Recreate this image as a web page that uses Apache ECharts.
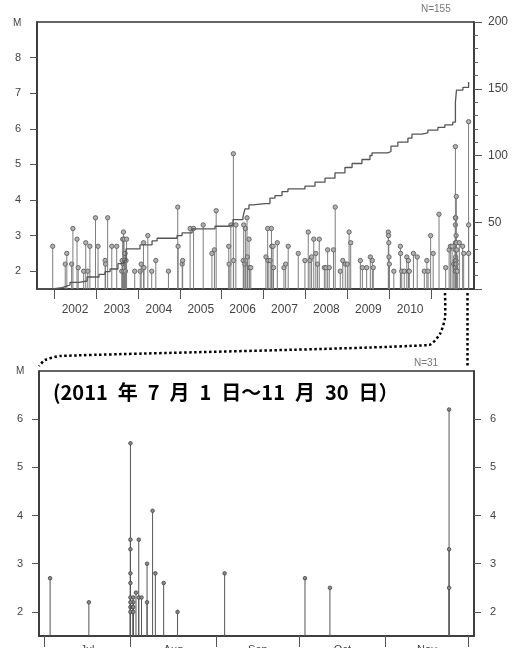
<!DOCTYPE html>
<html><head><meta charset="utf-8">
<script src="https://cdn.jsdelivr.net/npm/echarts@6/dist/echarts.min.js"></script>
<style>html,body{margin:0;padding:0;background:#fff}#c{width:515px;height:648px}</style>
</head><body><div id="c"></div>
<script>
// ---- data ----
const topDates = [
'2001-12-20','2002-04-08','2002-04-22','2002-06-03','2002-06-14','2002-07-20','2002-07-30','2002-09-16','2002-10-04','2002-10-22','2002-11-09','2002-12-28',
'2003-01-19','2003-03-22','2003-03-26','2003-04-13','2003-05-19','2003-07-01',
'2003-08-14','2003-08-18','2003-08-22','2003-08-26','2003-08-29','2003-09-01','2003-09-03','2003-09-05','2003-09-08','2003-09-12','2003-09-15','2003-09-20','2003-09-25',
'2003-12-05','2004-01-22','2004-01-30','2004-02-20','2004-02-24','2004-03-28','2004-05-01','2004-06-06','2004-09-24','2004-12-14','2004-12-17',
'2005-01-22','2005-01-26','2005-04-01','2005-05-01','2005-07-24','2005-10-08','2005-10-30','2005-11-14',
'2006-03-04','2006-03-07','2006-03-22','2006-04-13','2006-04-15','2006-05-05','2006-07-08','2006-07-12','2006-07-23','2006-07-27','2006-08-10','2006-08-14','2006-08-28','2006-09-02','2006-09-12',
'2007-01-22','2007-02-06','2007-02-10','2007-02-28','2007-03-11','2007-03-14','2007-03-25','2007-03-29','2007-05-01','2007-06-28','2007-07-13','2007-08-04','2007-10-31','2007-12-28',
'2008-01-26','2008-02-10','2008-02-24','2008-03-14','2008-04-01','2008-04-16','2008-05-01','2008-06-14','2008-06-28','2008-07-13','2008-07-27','2008-09-02','2008-09-17','2008-10-31','2008-11-22','2008-12-14',
'2009-01-01','2009-01-16','2009-01-30','2009-04-24','2009-05-12','2009-06-18','2009-07-20','2009-08-07','2009-08-15','2009-12-24','2009-12-26','2009-12-28','2009-12-30',
'2010-01-02','2010-02-10','2010-04-08','2010-04-10','2010-04-20','2010-05-12','2010-06-03','2010-06-17','2010-06-19','2010-06-25','2010-07-31','2010-09-02','2010-11-03','2010-11-25','2010-12-06','2010-12-28',
'2011-01-19','2011-03-11','2011-05-08','2011-06-07','2011-06-18'
];
const topMag = [
2.7,2.2,2.5,2.2,3.2,2.9,2.1,2.0,2.8,2.0,2.7,3.5,
2.7,2.3,2.2,3.5,2.7,2.7,
2.0,2.3,2.9,2.2,3.1,2.0,2.9,2.1,2.3,2.5,2.0,2.3,2.9,
2.0,2.0,2.2,2.8,2.1,3.0,2.0,2.3,2.0,3.8,2.7,
2.2,2.3,3.2,3.2,3.3,2.5,2.6,3.7,
2.7,2.2,3.3,5.3,2.3,3.3,2.3,3.3,2.2,3.2,3.5,2.4,2.9,2.1,2.1,
2.4,3.2,2.3,2.3,3.2,2.7,2.7,2.1,2.8,2.1,2.2,2.7,2.5,2.3,
3.1,2.3,2.4,2.9,2.5,2.2,2.9,2.1,2.1,2.6,2.1,2.6,3.8,2.0,2.3,2.2,
2.2,3.1,2.8,2.3,2.1,2.1,2.4,2.3,2.1,3.1,3.0,2.8,2.4,
2.2,2.0,2.7,2.5,2.0,2.0,2.4,2.3,2.0,2.0,2.5,2.4,2.0,2.3,2.0,3.0,
2.5,3.6,2.1,2.6,2.7
];
// Jul 1 - Nov 30, 2011 (N=31)
const julNovDates = [
'2011-07-03','2011-07-17',
'2011-08-01','2011-08-01','2011-08-01','2011-08-01','2011-08-01','2011-08-01','2011-08-01','2011-08-02','2011-08-02','2011-08-01','2011-08-02','2011-08-01','2011-08-02',
'2011-08-03','2011-08-04','2011-08-04','2011-08-05','2011-08-07','2011-08-07','2011-08-09','2011-08-10','2011-08-13','2011-08-18',
'2011-09-04','2011-10-03','2011-10-12','2011-11-24','2011-11-24','2011-11-24'
];
const julNovMag = [
2.7,2.2,
5.5,3.5,3.3,2.8,2.6,2.3,2.1,2.3,2.2,2.2,2.1,2.0,2.0,
2.4,3.5,2.3,2.3,3.0,2.2,4.1,2.8,2.6,2.0,
2.8,2.7,2.5,6.2,3.3,2.5
];
// cumulative number of events (right axis)
const cumDates = ['2001-08-05','2001-12-22','2002-03-10','2002-04-15','2002-05-20','2002-08-07','2002-10-16','2003-01-28','2003-03-21','2003-05-04','2003-07-12','2003-09-02','2003-09-20','2004-01-20','2004-05-04','2004-06-17','2004-12-08','2005-01-21','2005-04-18','2005-11-04','2006-02-25','2006-04-10','2006-07-06','2006-07-23','2006-08-27','2006-10-01','2007-01-14','2007-02-26','2007-04-11','2007-06-11','2007-08-02','2007-12-28','2008-03-25','2008-06-20','2008-09-15','2008-12-11','2009-02-11','2009-05-08','2009-07-17','2009-08-04','2009-12-21','2010-01-16','2010-03-17','2010-06-13','2010-07-18','2010-10-13','2010-12-04','2011-03-01','2011-05-01','2011-07-09','2011-08-01','2011-08-10','2011-10-05','2011-11-24','2011-11-30'];
const cumCount = [0,1,2,3,5,6,9,11,13,15,19,21,30,33,36,38,40,42,45,47,48,52,54,60,63,64,64,68,70,73,75,77,80,83,87,91,94,97,100,102,103,107,110,113,116,117,119,121,123,125,140,149,151,155,155];
const yearTicks = ['2002-01-01','2003-01-01','2004-01-01','2005-01-01','2006-01-01','2007-01-01','2008-01-01','2009-01-01','2010-01-01','2011-01-01'];
const yearLabels = ['2002','2003','2004','2005','2006','2007','2008','2009','2010'];
const monthTicks = ['2011-07-01','2011-08-01','2011-09-01','2011-10-01','2011-11-01','2011-12-01'];
const monthLabels = ['Jul','Aug','Sep','Oct','Nov'];
const topMTicks = [2,3,4,5,6,7,8];
const lowMTicks = [2,3,4,5,6];
const topCountLabel = 'N=155';
const lowCountLabel = 'N=31';
const titleText = '(2011\u2002年\u20027\u2002月\u20021\u2002日～11\u2002月\u200230\u2002日）';

// ---- helpers ----
const T = s => { const p = s.split('-').map(Number); return Date.UTC(p[0], p[1]-1, p[2]); };
const mids = arr => arr.slice(0, -1).map((s, i) => (T(s) + T(arr[i+1])) / 2);
const yearMid = mids(yearTicks);
const monthMid = mids(monthTicks);
const allTop = topDates.map((d,i)=>[T(d), topMag[i]]).concat(julNovDates.map((d,i)=>[T(d), julNovMag[i]]));
const lowData = julNovDates.map((d,i)=>[T(d), julNovMag[i]]);
const cumData = cumDates.map((d,i)=>[T(d), cumCount[i]]);
const nearestIdx = (arr, v) => { let b=0, bd=Infinity; arr.forEach((a,i)=>{const d=Math.abs(a-v); if(d<bd){bd=d;b=i;}}); return b; };

function stems(base, lineColor, dotFill, dotStroke, r) {
  return function(params, api) {
    const p = api.coord([api.value(0), api.value(1)]);
    const b = api.coord([api.value(0), base]);
    return {type:'group', children:[
      {type:'line', shape:{x1:p[0],y1:p[1],x2:b[0],y2:b[1]}, style:{stroke:lineColor, lineWidth:1}},
      {type:'circle', shape:{cx:p[0],cy:p[1],r:r}, style:{fill:dotFill, stroke:dotStroke, lineWidth:0.8}}
    ]};
  };
}

const axisCol = '#333';
const lab = {color:'#444', fontSize:12, fontFamily:'Liberation Sans, Arial, sans-serif'};
const chart = echarts.init(document.getElementById('c'), null, {renderer:'canvas'});
chart.setOption({
  animation:false,
  backgroundColor:'#fff',
  grid:[
    {left:37, top:22, width:437, height:267, show:true, borderColor:axisCol, borderWidth:1.5, backgroundColor:'transparent', outerBoundsMode:'none'},
    {left:39, top:371, width:435, height:265, show:true, borderColor:axisCol, borderWidth:1.5, backgroundColor:'transparent', outerBoundsMode:'none'}
  ],
  xAxis:[
    {type:'value', gridIndex:0, min:T('2001-08-05'), max:T('2012-01-10'),
     axisLine:{lineStyle:{color:axisCol,width:1.5}},
     axisTick:{show:true, customValues:yearTicks.map(T), length:10, lineStyle:{color:'#555'}},
     axisLabel:Object.assign({customValues:yearMid, margin:15, formatter:v=>yearLabels[nearestIdx(yearMid, v)]}, lab),
     splitLine:{show:false}},
    {type:'value', gridIndex:1, min:T('2011-06-29'), max:T('2011-12-03'),
     axisLine:{lineStyle:{color:axisCol,width:1.5}},
     axisTick:{show:true, customValues:monthTicks.map(T), length:11, lineStyle:{color:'#555'}},
     axisLabel:Object.assign({customValues:monthMid, margin:8, formatter:v=>monthLabels[nearestIdx(monthMid, v)]}, lab, {fontSize:11}),
     splitLine:{show:false}}
  ],
  yAxis:[
    {type:'value', gridIndex:0, min:1.5, max:9, position:'left',
     axisLine:{show:true,lineStyle:{color:axisCol,width:1.5}},
     axisTick:{show:true, customValues:topMTicks, length:7, lineStyle:{color:'#555'}},
     axisLabel:Object.assign({customValues:topMTicks, margin:16}, lab, {fontSize:11}),
     splitLine:{show:false}},
    {type:'value', gridIndex:0, min:0, max:200, interval:50, position:'right',
     axisLine:{show:true,lineStyle:{color:axisCol,width:1.5}},
     axisTick:{show:true, length:8, lineStyle:{color:'#555'}},
     minorTick:{show:true, splitNumber:5, length:4, lineStyle:{color:'#666'}},
     axisLabel:Object.assign({showMinLabel:false, margin:14}, lab),
     splitLine:{show:false}},
    {type:'value', gridIndex:1, min:1.5, max:7, position:'left',
     axisLine:{show:true,lineStyle:{color:axisCol,width:1.5}},
     axisTick:{show:true, customValues:lowMTicks, length:7, lineStyle:{color:'#555'}},
     axisLabel:Object.assign({customValues:lowMTicks, margin:16}, lab, {fontSize:11}),
     splitLine:{show:false}},
    {type:'value', gridIndex:1, min:1.5, max:7, position:'right',
     axisLine:{show:true,lineStyle:{color:axisCol,width:1.5}},
     axisTick:{show:true, customValues:lowMTicks, length:7, lineStyle:{color:'#555'}},
     axisLabel:Object.assign({customValues:lowMTicks, margin:16}, lab, {fontSize:11}),
     splitLine:{show:false}}
  ],
  series:[
    {type:'custom', xAxisIndex:0, yAxisIndex:0, data:allTop, renderItem:stems(1.5,'#7d7d7d','#b0b0b0','#555',2.2), encode:{x:0,y:1}, z:2},
    {type:'line', xAxisIndex:0, yAxisIndex:1, data:cumData, step:'end', showSymbol:false, lineStyle:{color:'#555', width:1.3}, z:3},
    {type:'custom', xAxisIndex:1, yAxisIndex:2, data:lowData, renderItem:stems(1.5,'#555','#888','#444',1.8), encode:{x:0,y:1}, z:2}
  ],
  graphic:[
    {type:'text', left:13, top:18, style:{text:'M', fill:'#444', font:'10px Liberation Sans, Arial, sans-serif'}},
    {type:'text', left:16, top:366, style:{text:'M', fill:'#444', font:'10px Liberation Sans, Arial, sans-serif'}},
    {type:'text', left:421, top:4, style:{text:topCountLabel, fill:'#777', font:'10px Liberation Sans, Arial, sans-serif'}},
    {type:'text', left:414, top:358, style:{text:lowCountLabel, fill:'#777', font:'10px Liberation Sans, Arial, sans-serif'}},
    {type:'text', left:53, top:382, style:{text:titleText, fill:'#000', font:'bold 20px "Noto Sans CJK JP", sans-serif'}},
    {type:'polyline', shape:{points:[[445,293],[445,318],[440,334],[429,345],[60,356],[45,360],[39,366]], smooth:0.2},
     style:{stroke:'#000', lineWidth:2.5, lineDash:[2.5,2.5], fill:null}},
    {type:'line', shape:{x1:467.5,y1:293,x2:467.5,y2:368}, style:{stroke:'#000', lineWidth:2.5, lineDash:[2.5,2.5]}}
  ]
});
</script></body></html>
